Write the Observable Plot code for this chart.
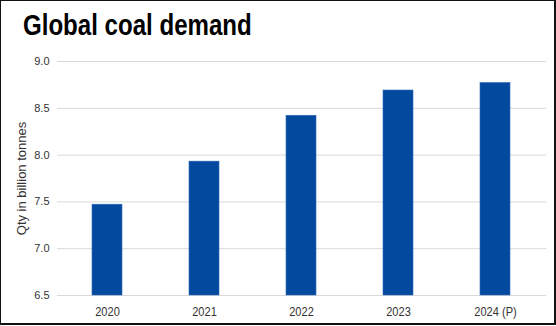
<!DOCTYPE html>
<html>
<head>
<meta charset="utf-8">
<script src="https://cdn.jsdelivr.net/npm/d3@7"></script>
<script src="https://cdn.jsdelivr.net/npm/@observablehq/plot@0.6"></script>
<style>
  html, body { margin: 0; padding: 0; background: #fff; }
  #wrap { position: relative; width: 556px; height: 326px; overflow: hidden; background: #fff; }
  #title { position: absolute; left: 23px; top: 9px; font-family: "Liberation Sans", Arial, sans-serif; font-weight: bold; font-size: 29px; color: #000; white-space: nowrap; transform: scaleX(0.83); transform-origin: 0 0; }
  #chart { position: absolute; left: 0; top: 45px; }
  #border { position: absolute; left: 0; top: 0; width: 553px; height: 322px; border-style: solid; border-color: #111; border-width: 1px 2px 2px 1px; pointer-events: none; }
</style>
</head>
<body>
<div id="wrap">
  <div id="title">Global coal demand</div>
  <div id="chart"></div>
  <div id="border"></div>
</div>
<script>
const years = ["2020", "2021", "2022", "2023", "2024 (P)"];
const demand = [7.47, 7.93, 8.42, 8.69, 8.77];
const yTicks = [6.5, 7.0, 7.5, 8.0, 8.5, 9.0];

const data = years.map((year, i) => ({year, value: demand[i]}));

const plot = Plot.plot({
  width: 556,
  height: 281,
  marginTop: 16,
  marginBottom: 31,
  marginLeft: 57,
  marginRight: 10,
  style: {fontFamily: "'Liberation Sans', Arial, sans-serif", fontSize: "11px", color: "#333", background: "transparent"},
  x: {domain: years, paddingInner: 0.69, paddingOuter: 0.345, label: null},
  y: {domain: [6.5, 9.0], label: null},
  marks: [
    Plot.gridY(yTicks, {stroke: "#d9d9d9", strokeOpacity: 1, strokeWidth: 1}),
    Plot.barY(data, {x: "year", y1: 6.5, y2: "value", fill: "#034a9f", stroke: "#2f68b8", strokeWidth: 0.6}),
    Plot.axisY({ticks: yTicks, tickFormat: d3.format(".1f"), tickSize: 0, tickPadding: 8,
      label: "Qty in billion tonnes", labelAnchor: "center", labelArrow: "none", labelOffset: 41,
      fontSize: 11}),
    Plot.axisX({tickSize: 0, tickPadding: 11, label: null, fontSize: 13.5})
  ]
});
document.getElementById("chart").appendChild(plot);
plot.querySelectorAll("[aria-label='y-axis label'] text").forEach(t => {
  t.setAttribute("font-size", "13px");
});
// condense x tick labels like the reference's narrow face
plot.querySelectorAll("[aria-label='x-axis tick label'] text").forEach(t => {
  const tr = t.getAttribute("transform") || "";
  t.setAttribute("transform", tr + " scale(0.82,1)");
});
</script>
</body>
</html>
